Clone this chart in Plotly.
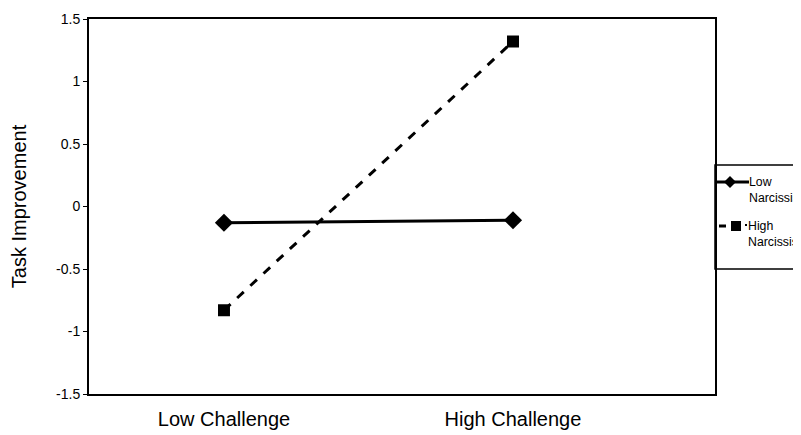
import plotly.graph_objects as go

categories = ["Low Challenge", "High Challenge"]
low_narc = [-0.13, -0.11]
high_narc = [-0.83, 1.32]
series_names = ["Low<br>Narcissists", "High<br>Narcissists"]
y_ticks = [-1.5, -1, -0.5, 0, 0.5, 1, 1.5]
y_ticktext = ["-1.5", "-1", "-0.5", "0", "0.5", "1", "1.5"]

W, H = 801, 435
L, R, T, B = 81, 94, 11, 49
PW, PH = W - L - R, H - T - B

def px(x):
    return (x - L) / PW

def py(y):
    return (H - B - y) / PH

xpos = [0, 1]
FONT = "Liberation Sans, Arial, sans-serif"

fig = go.Figure()
fig.add_trace(go.Scatter(
    x=xpos, y=low_narc, mode="lines+markers", name="Low Narcissists",
    line=dict(color="black", width=3),
    marker=dict(symbol="diamond", size=14, color="black"),
    showlegend=False))
fig.add_trace(go.Scatter(
    x=xpos, y=high_narc, mode="lines+markers", name="High Narcissists",
    line=dict(color="black", width=3, dash="9px,9px"),
    marker=dict(symbol="square", size=12, color="black"),
    showlegend=False))

shapes = []
# legend box
shapes.append(dict(type="rect", xref="paper", yref="paper",
                   x0=px(707), x1=px(830), y0=py(261), y1=py(157),
                   line=dict(color="black", width=1.5), fillcolor="white", layer="below"))
# low entry line + diamond
ly = 174
shapes.append(dict(type="line", xref="paper", yref="paper",
                   x0=px(709), x1=px(741), y0=py(ly), y1=py(ly),
                   line=dict(color="black", width=3)))
cx, r = 722, 6
shapes.append(dict(type="path", xref="paper", yref="paper",
                   path=f"M {px(cx-r)} {py(ly)} L {px(cx)} {py(ly-r)} L {px(cx+r)} {py(ly)} L {px(cx)} {py(ly+r)} Z",
                   fillcolor="black", line=dict(color="black", width=0)))
# high entry dashes + square
hy = 218
shapes.append(dict(type="line", xref="paper", yref="paper",
                   x0=px(711), x1=px(718), y0=py(hy), y1=py(hy),
                   line=dict(color="black", width=3)))
shapes.append(dict(type="line", xref="paper", yref="paper",
                   x0=px(737), x1=px(739), y0=py(hy - 1), y1=py(hy - 1),
                   line=dict(color="black", width=2)))
cx, r = 728, 5
shapes.append(dict(type="rect", xref="paper", yref="paper",
                   x0=px(cx-r), x1=px(cx+r), y0=py(hy+r), y1=py(hy-r),
                   fillcolor="black", line=dict(color="black", width=0)))

annotations = [
    dict(text=series_names[0], x=px(739), y=py(ly - 9), xref="paper", yref="paper",
         xanchor="left", yanchor="top", showarrow=False, align="left",
         font=dict(family=FONT, size=12.3, color="black")),
    dict(text=series_names[1], x=px(738), y=py(hy - 9), xref="paper", yref="paper",
         xanchor="left", yanchor="top", showarrow=False, align="left",
         font=dict(family=FONT, size=12.3, color="black")),
]

fig.update_layout(
    width=W, height=H,
    margin=dict(l=L, r=R, t=T, b=B, autoexpand=False),
    paper_bgcolor="white", plot_bgcolor="white",
    font=dict(family=FONT, color="black"),
    shapes=shapes, annotations=annotations,
    showlegend=False,
)
fig.update_xaxes(
    range=[-0.467, 1.699], tickvals=xpos, ticktext=categories,
    showgrid=False, zeroline=False, ticks="",
    showline=True, mirror=True, linecolor="black", linewidth=2,
    tickfont=dict(size=20), ticklabelstandoff=6,
)
fig.update_yaxes(
    range=[-1.5, 1.5], tickvals=y_ticks, ticktext=y_ticktext,
    showgrid=False, zeroline=False, ticks="outside", ticklen=4, tickcolor="black",
    showline=True, mirror=True, linecolor="black", linewidth=2,
    tickfont=dict(size=14),
    title=dict(text="Task Improvement", font=dict(size=20), standoff=29),
)

fig.write_html("out.html")
